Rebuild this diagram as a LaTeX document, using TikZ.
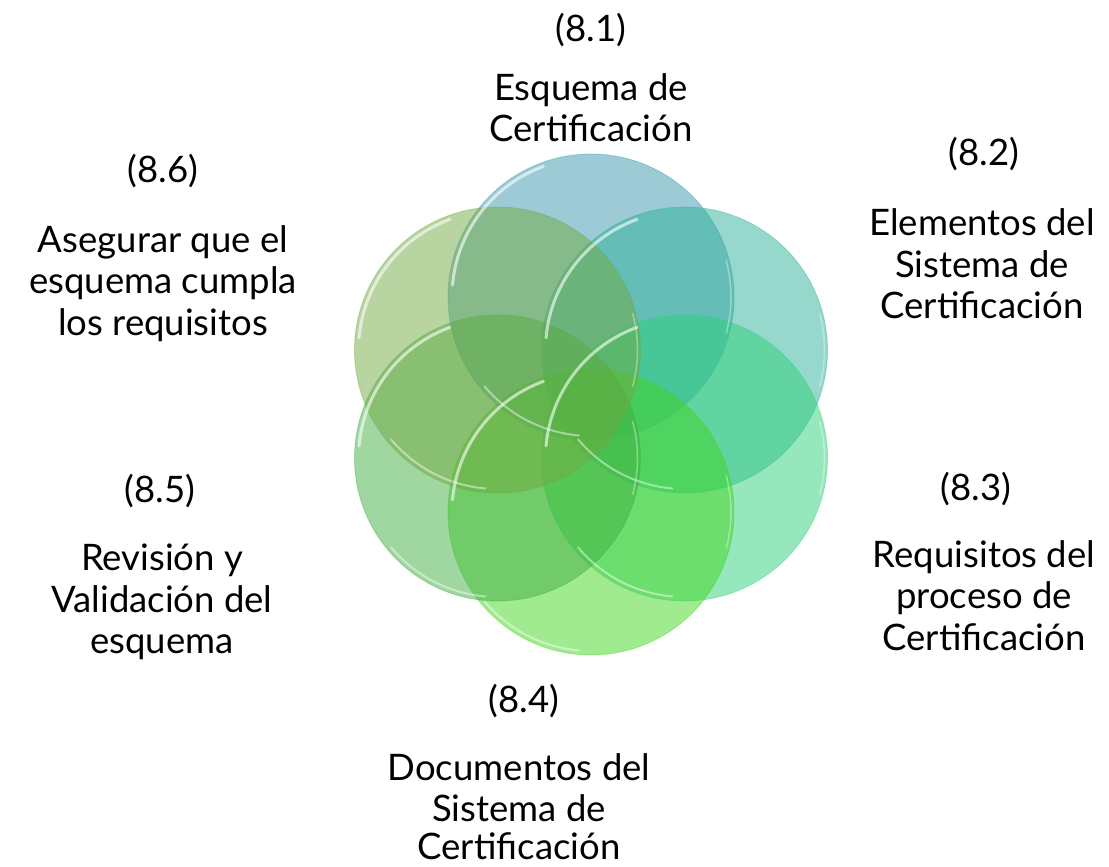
\documentclass[tikz,border=0pt]{standalone}
\usepackage{fontspec}
\setmainfont{Lato}
\begin{document}
\begin{tikzpicture}[x=1pt,y=-1pt,
  lbl/.style={anchor=base,inner sep=0pt,font=\fontsize{36.5}{42}\selectfont,text=black},
  disc/.style={circle,minimum size=286pt,inner sep=0pt,fill=#1,fill opacity=0.5,draw=#1,draw opacity=0.4,line width=0.8pt}]
\useasboundingbox (0,0) rectangle (1109,867);
\definecolor{cT}{RGB}{57,151,173}
\definecolor{cUR}{RGB}{45,177,153}
\definecolor{cLR}{RGB}{45,209,121}
\definecolor{cB}{RGB}{65,213,33}
\definecolor{cLL}{RGB}{65,173,65}
\definecolor{cUL}{RGB}{113,169,65}
% circles
\node[disc=cT]  (cT)  at (591,297) {};
\node[disc=cUR] (cUR) at (684.5,350) {};
\node[disc=cLR] (cLR) at (684.5,458) {};
\node[disc=cB]  (cB)  at (591,512) {};
\node[disc=cLL] (cLL) at (497.5,458) {};
\node[disc=cUL] (cUL) at (497.5,350) {};
% glossy highlights near the rims
\foreach \c in {cT,cUR,cLR,cB,cLL,cUL}{
  \draw[white,opacity=0.45,line width=2pt,line cap=round]
    (\c.center) ++(95:139) arc[start angle=95,end angle=140,radius=139];
  \draw[white,opacity=0.6,line width=3pt,line cap=round]
    (\c.center) ++(185:139) arc[start angle=185,end angle=250,radius=139];
  \draw[white,opacity=0.35,line width=1.5pt,line cap=round]
    (\c.center) ++(15:140) arc[start angle=15,end angle=-15,radius=140];
}
% labels
\node[lbl] (n1)  at (591,42)  {(8.1)};
\node[lbl] (t1a) at (591,100) {Esquema de};
\node[lbl] (t1b) at (591,141) {Certificación};
\node[lbl] (n2)  at (984,165) {(8.2)};
\node[lbl] (t2a) at (982,235) {Elementos del};
\node[lbl] (t2b) at (982,277) {Sistema de};
\node[lbl] (t2c) at (982,318) {Certificación};
\node[lbl] (n3)  at (976,500) {(8.3)};
\node[lbl] (t3a) at (984,567) {Requisitos del};
\node[lbl] (t3b) at (984,608) {proceso de};
\node[lbl] (t3c) at (984,650) {Certificación};
\node[lbl] (n4)  at (524,712) {(8.4)};
\node[lbl] (t4a) at (519,780) {Documentos del};
\node[lbl] (t4b) at (519,821) {Sistema de};
\node[lbl] (t4c) at (519,859) {Certificación};
\node[lbl] (n5)  at (160,502) {(8.5)};
\node[lbl] (t5a) at (162,570) {Revisión y};
\node[lbl] (t5b) at (162,612) {Validación del};
\node[lbl] (t5c) at (162,653) {esquema};
\node[lbl] (n6)  at (163,182) {(8.6)};
\node[lbl] (t6a) at (163,252) {Asegurar que el};
\node[lbl] (t6b) at (163,293) {esquema cumpla};
\node[lbl] (t6c) at (163,335) {los requisitos};
\end{tikzpicture}
\end{document}
